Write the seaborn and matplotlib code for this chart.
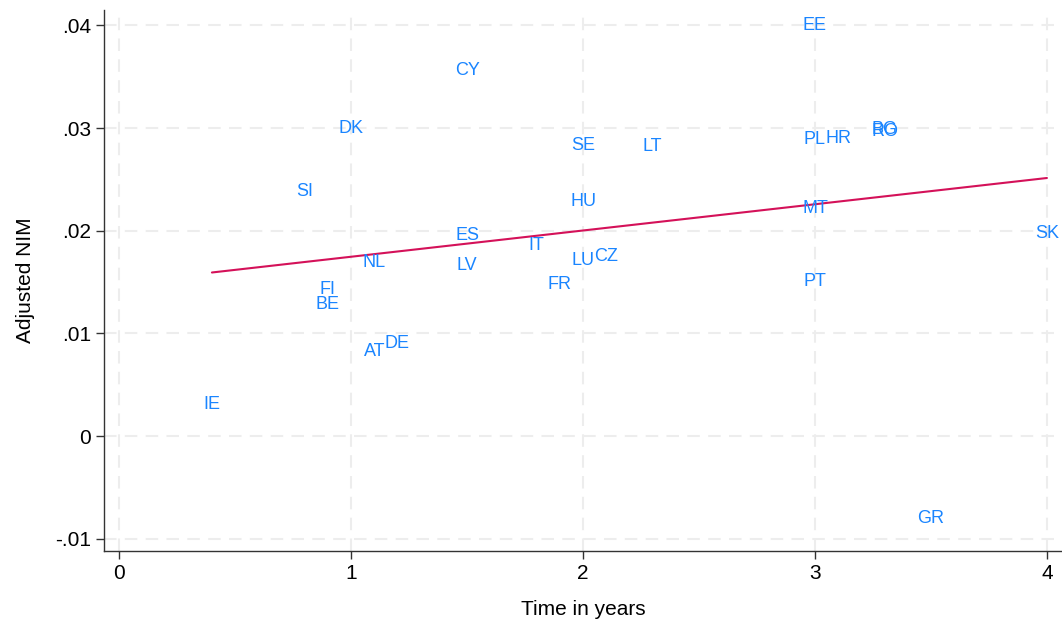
import seaborn as sns
import pandas as pd
import numpy as np
import matplotlib.pyplot as plt

# country codes, time in years, adjusted NIM
countries = ["EE", "CY", "DK", "SI", "SE", "LT", "PL", "HR", "BG", "RO",
             "HU", "MT", "SK", "ES", "IT", "NL", "LV", "CZ", "LU", "FR",
             "PT", "FI", "BE", "AT", "DE", "IE", "GR"]
years = [3.0, 1.5, 1.0, 0.8, 2.0, 2.3, 3.0, 3.1, 3.3, 3.3,
         2.0, 3.0, 4.0, 1.5, 1.8, 1.1, 1.5, 2.1, 2.0, 1.9,
         3.0, 0.9, 0.9, 1.1, 1.2, 0.4, 3.5]
nim = [0.0400, 0.0356, 0.0300, 0.0238, 0.0283, 0.0282, 0.0289, 0.0290, 0.0299, 0.0297,
       0.0228, 0.0222, 0.0197, 0.0195, 0.0186, 0.0169, 0.0166, 0.0175, 0.0171, 0.0148,
       0.0151, 0.0143, 0.0128, 0.0082, 0.0090, 0.0031, -0.0080]

xticks = [0, 1, 2, 3, 4]
yticks = [-0.01, 0, 0.01, 0.02, 0.03, 0.04]
ytick_labels = ["-.01", "0", ".01", ".02", ".03", ".04"]

df = pd.DataFrame({"country": countries, "years": years, "nim": nim})

sns.set_theme(style="white")
plt.rcParams['font.family'] = ['Liberation Sans', 'DejaVu Sans']

fig = plt.figure(figsize=(10.62, 6.24), dpi=100)
ax = fig.add_axes([0.098, 0.117, 0.902, 0.867])

label_color = "#1a85ff"
line_color = "#d41159"

# labels only, no markers
for _, r in df.iterrows():
    ax.text(r["years"], r["nim"], r["country"], color=label_color,
            fontsize=13, ha="center", va="center")

# linear fit
sns.regplot(data=df, x="years", y="nim", scatter=False, ci=None,
            color=line_color, line_kws={"linewidth": 1.5}, ax=ax)

ax.set_xlim(-0.065, 4.065)
ax.set_ylim(-0.0112, 0.0415)
ax.set_xticks(xticks)
ax.set_xticklabels([str(t) for t in xticks])
ax.set_yticks(yticks)
ax.set_yticklabels(ytick_labels)

ax.grid(True, color="#ededed", linestyle=(0, (6, 4)), linewidth=1.5)
ax.set_axisbelow(True)

for side in ["top", "right"]:
    ax.spines[side].set_visible(False)
for side in ["left", "bottom"]:
    ax.spines[side].set_color("#333333")
    ax.spines[side].set_linewidth(1.0)

ax.tick_params(axis="both", which="major", direction="out", length=6,
               width=1, color="#333333", labelsize=15, labelcolor="black",
               left=True, bottom=True)
ax.set_xlabel("Time in years", fontsize=15, color="black", labelpad=12)
ax.set_ylabel("Adjusted NIM", fontsize=15, color="black", labelpad=14)

fig.savefig("out.png", dpi=100)
